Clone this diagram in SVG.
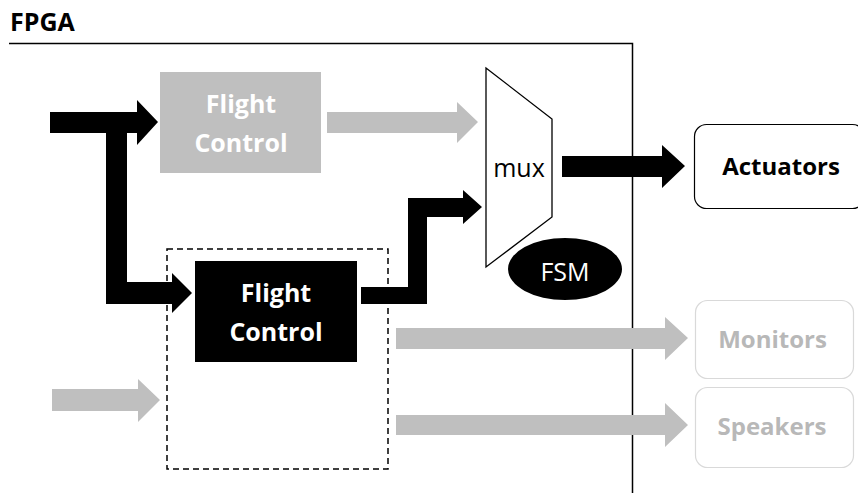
<svg xmlns="http://www.w3.org/2000/svg" width="858" height="493" viewBox="0 0 858 493">
<style>
text{font-family:"Open Sans","Liberation Sans",sans-serif;text-anchor:middle}
.b{font-weight:bold}
.blk{fill:#000}
.gry{fill:#bfbfbf}
.lbl{font-size:25px;font-weight:bold}
</style>
<rect width="858" height="493" fill="#fff"/>
<g id="fpga">
<text x="10" y="31" style="text-anchor:start;font-size:25px" class="b">FPGA</text>
<path d="M9 43.5H632.5V493" fill="none" stroke="#000" stroke-width="1.5"/>
</g>
<g id="connectors">
<polygon class="blk" points="50,112 137,112 137,100 158,122 137,145 137,133 127,133 127,282 172,282 172,273 192,293 172,313 172,304 106,304 106,133 50,133"/>
<polygon class="gry" points="327,112 457,112 457,102 478,122 457,143 457,133 327,133"/>
<polygon class="blk" points="361,287 408,287 408,198 463,198 463,190 482,207 463,224 463,217 427,217 427,304 361,304"/>
<polygon class="blk" points="562,156 662,156 662,145 685,166 662,188 662,177 562,177"/>
<polygon class="gry" points="52,389 138,389 138,379 160,400 138,422 138,411 52,411"/>
<polygon class="gry" points="396,328 665,328 665,317 688,338 665,360 665,349 396,349"/>
<polygon class="gry" points="396,415 665,415 665,403 688,425 665,447 665,435 396,435"/>
</g>
<g id="fc1">
<rect x="160" y="72" width="161" height="101" fill="#bfbfbf"/>
<text x="241" y="113" class="lbl" fill="#fff">Flight</text>
<text x="241" y="152" class="lbl" fill="#fff">Control</text>
</g>
<g id="dashed">
<rect x="167" y="249" width="221" height="220" fill="none" stroke="#000" stroke-width="1.5" stroke-dasharray="6,4"/>
</g>
<g id="fc2">
<rect x="195" y="261" width="162" height="101" fill="#000"/>
<text x="276" y="302" class="lbl" fill="#fff">Flight</text>
<text x="276" y="341" class="lbl" fill="#fff">Control</text>
</g>
<g id="mux">
<polygon points="486,68 552,119 552,217 486,267" fill="#fff" stroke="#000" stroke-width="1.3"/>
<text x="519" y="177" style="font-size:25px" fill="#000">mux</text>
</g>
<g id="fsm">
<ellipse cx="565" cy="269" rx="57" ry="31" fill="#000"/>
<text x="565" y="281" style="font-size:25px" fill="#fff">FSM</text>
</g>
<g id="actuators">
<rect x="694.5" y="124.5" width="170" height="84" rx="12" fill="#fff" stroke="#000" stroke-width="1.2"/>
<text x="781" y="175" class="lbl" style="font-size:24px" fill="#000">Actuators</text>
</g>
<g id="monitors">
<rect x="695.5" y="300.5" width="158" height="78" rx="12" fill="#fff" stroke="#d9d9d9" stroke-width="1.2"/>
<text x="772.5" y="348" class="lbl" style="font-size:24px" fill="#b8b8b8">Monitors</text>
</g>
<g id="speakers">
<rect x="695.5" y="387.5" width="158" height="80" rx="12" fill="#fff" stroke="#d9d9d9" stroke-width="1.2"/>
<text x="772" y="435" class="lbl" style="font-size:24px" fill="#b8b8b8">Speakers</text>
</g>
</svg>
